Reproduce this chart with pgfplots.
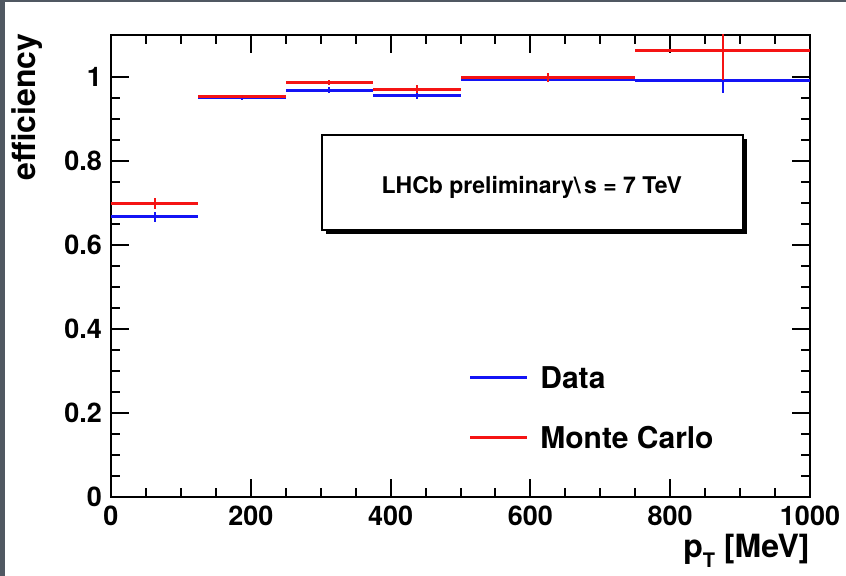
\documentclass[border=0pt]{standalone}
\usepackage{fontspec}
\setmainfont{TeX Gyre Heros}
\usepackage{pgfplots}
\pgfplotsset{compat=1.18}
\usepackage{pgfplotstable}

\definecolor{rootblue}{RGB}{20,20,245}
\definecolor{rootred}{RGB}{245,20,20}
\definecolor{edgegray}{RGB}{80,88,98}

% bin centre, efficiency, half bin width, error
\pgfplotstableread{
x    y      ex     ey
62.5  0.667 62.5  0.012
187.5 0.950 62.5  0.005
312.5 0.969 62.5  0.006
437.5 0.955 62.5  0.008
625   0.995 125   0.006
875   0.992 125   0.030
}\datatab
\pgfplotstableread{
x    y      ex     ey
62.5  0.698 62.5  0.013
187.5 0.953 62.5  0.004
312.5 0.987 62.5  0.005
437.5 0.971 62.5  0.009
625   0.999 125   0.010
875   1.062 125   0.070
}\mctab

\pgfplotsset{
  hbins/.style={only marks, no markers, mark size=0pt,
    every mark/.append style={draw=none, fill=none},
    error bars/x dir=both, error bars/x explicit,
    error bars/error bar style={line width=1.5pt, draw=#1}},
  vbars/.style={only marks, no markers, mark size=0pt,
    every mark/.append style={draw=none, fill=none},
    error bars/y dir=both, error bars/y explicit,
    error bars/error bar style={line width=1pt, draw=#1}},
}

\begin{document}
\begin{tikzpicture}
\useasboundingbox (0,0) rectangle (423pt,288pt);
\fill[white] (0,0) rectangle (423pt,288pt);
\fill[edgegray] (0,0) rectangle (2.5pt,288pt);
\fill[edgegray] (0,287pt) rectangle (423pt,288pt);
\begin{axis}[
  at={(55.5pt,39.5pt)}, anchor=south west,
  scale only axis,
  width=349.5pt, height=231pt,
  xmin=0, xmax=1000, ymin=0, ymax=1.1,
  xtick={0,200,...,1000},
  ytick={0,0.2,0.4,0.6,0.8,1},
  minor x tick num=3,
  minor y tick num=3,
  tick align=inside,
  major tick length=9pt,
  minor tick length=4.5pt,
  every tick/.style={black, line width=1pt},
  axis line style={line width=1.2pt},
  tick label style={font=\fontsize{13.5}{14}\selectfont\bfseries},
  /pgf/number format/assume math mode=true,
  /pgf/number format/1000 sep={},
  xticklabel style={yshift=-1pt},
  yticklabel style={xshift=-1pt},
  xlabel={p\raisebox{-0.55ex}{\fontsize{10}{10}\selectfont T} [MeV]},
  ylabel={efficiency},
  label style={font=\fontsize{16}{18}\selectfont\bfseries},
  xlabel style={at={(axis description cs:1,-0.132)}, anchor=base east, inner sep=0pt},
  ylabel style={at={(axis description cs:-0.097,1.004)}, anchor=south east, inner sep=0pt, rotate=0},
  error bars/error mark=none,
]
\addplot[vbars=rootblue] table[x=x, y=y, y error=ey] {\datatab};
\addplot[hbins=rootblue] table[x=x, y=y, x error=ex] {\datatab};
\addplot[vbars=rootred] table[x=x, y=y, y error=ey] {\mctab};
\addplot[hbins=rootred] table[x=x, y=y, x error=ex] {\mctab};

% text box with shadow
\fill[black] ([xshift=2pt,yshift=-2pt]axis description cs:0.302,0.578) rectangle ([xshift=2pt,yshift=-2pt]axis description cs:0.904,0.784);
\filldraw[fill=white, draw=black, line width=1pt] (axis description cs:0.302,0.578) rectangle (axis description cs:0.904,0.784);
\node[font=\fontsize{11.5}{13}\selectfont\bfseries] at (axis description cs:0.602,0.669) {LHCb preliminary\textbackslash\,s = 7 TeV};
\end{axis}

% legend
\draw[rootblue, line width=1.5pt] (235pt,99pt) -- (263.5pt,99pt);
\node[anchor=west, inner sep=0pt, font=\fontsize{15}{17}\selectfont\bfseries] at (270pt,99pt) {Data};
\draw[rootred, line width=1.5pt] (235pt,69pt) -- (263.5pt,69pt);
\node[anchor=west, inner sep=0pt, font=\fontsize{15}{17}\selectfont\bfseries] at (270pt,69pt) {Monte Carlo};
\end{tikzpicture}
\end{document}
